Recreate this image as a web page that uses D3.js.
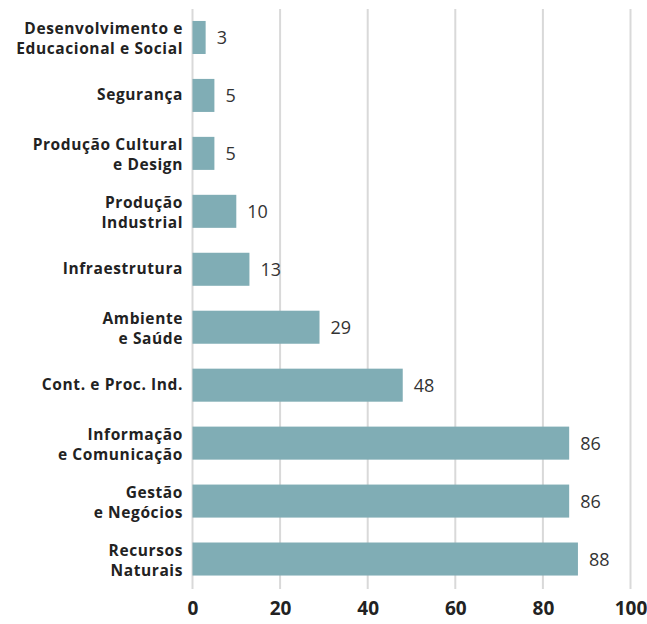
<!DOCTYPE html>
<html><head><meta charset="utf-8">
<script src="https://cdn.jsdelivr.net/npm/d3@7"></script>
<style>body{margin:0;background:#fff;} svg{display:block;}</style>
</head><body>
<svg id="chart" width="647" height="624"></svg>
<script>
const categories = [
  ["Desenvolvimento e", "Educacional e Social"],
  ["Segurança"],
  ["Produção Cultural", "e Design"],
  ["Produção", "Industrial"],
  ["Infraestrutura"],
  ["Ambiente", "e Saúde"],
  ["Cont. e Proc. Ind."],
  ["Informação", "e Comunicação"],
  ["Gestão", "e Negócios"],
  ["Recursos", "Naturais"]
];
const values = [3, 5, 5, 10, 13, 29, 48, 86, 86, 88];
const xTicks = [0, 20, 40, 60, 80, 100];

const svg = d3.select("#chart");
const font = "'Open Sans', 'Noto Sans', sans-serif";
const x = d3.scaleLinear().domain([0, 100]).range([192.5, 630.5]);
const keys = categories.map((c, i) => i);
const y = d3.scaleBand().domain(keys).range([8.5, 588]).paddingInner(0.43).paddingOuter(0.215);

// gridlines
svg.append("g").selectAll("line").data(xTicks).join("line")
  .attr("x1", d => x(d)).attr("x2", d => x(d))
  .attr("y1", 9).attr("y2", 589)
  .attr("stroke", "#d9d9d9").attr("stroke-width", 2);

// bars
svg.append("g").selectAll("rect").data(values).join("rect")
  .attr("x", x(0)).attr("y", (d, i) => y(i))
  .attr("width", d => x(d) - x(0)).attr("height", y.bandwidth())
  .attr("fill", "#80adb5");

// value labels
svg.append("g").selectAll("text").data(values).join("text")
  .attr("x", d => x(d) + 11).attr("y", (d, i) => y(i) + y.bandwidth() / 2)
  .attr("dy", "0.36em")
  .attr("font-family", font).attr("font-size", 18).attr("fill", "#333")
  .text(d => d);

// category labels
const cl = svg.append("g").selectAll("text").data(categories).join("text")
  .attr("x", 183).attr("y", (d, i) => y(i) + y.bandwidth() / 2)
  .attr("text-anchor", "end")
  .attr("font-family", font).attr("font-size", 15.5).attr("font-weight", "bold")
  .attr("letter-spacing", "0.6px").attr("fill", "#222");
cl.each(function(d) {
  const t = d3.select(this);
  const n = d.length;
  d.forEach((line, j) => {
    t.append("tspan").attr("x", 183)
      .attr("dy", j === 0 ? (n === 1 ? 5 : -3) : 20)
      .text(line);
  });
});

// x axis
const axis = d3.axisBottom(x).tickValues(xTicks).tickSize(0).tickPadding(0);
const ag = svg.append("g").attr("transform", "translate(0,597)").call(axis);
ag.select(".domain").remove();
ag.selectAll("text").attr("font-family", font).attr("font-size", 19)
  .attr("font-weight", "bold").attr("fill", "#222").attr("dy", "0.95em");
</script>
</body></html>
